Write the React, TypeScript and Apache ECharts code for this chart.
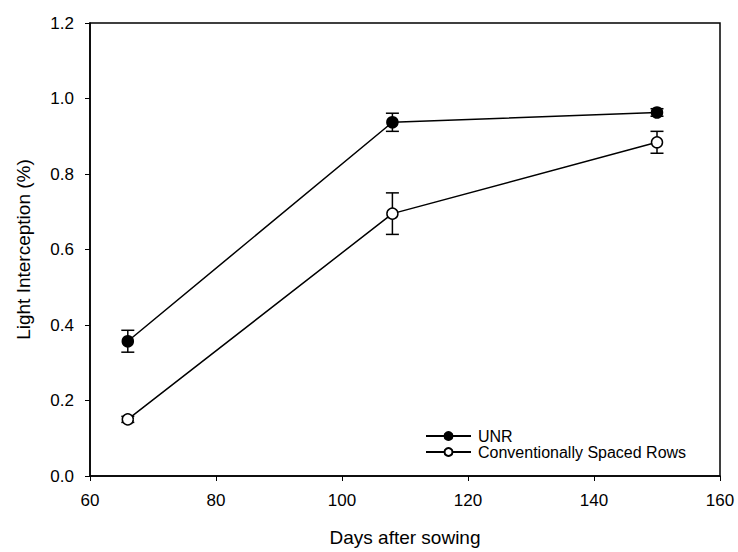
import React, { useEffect, useRef } from "react";
import * as echarts from "echarts";

const days = [66, 108, 150];
const unr = [0.357, 0.937, 0.963];
const unrErr = [0.029, 0.024, 0.01];
const csr = [0.15, 0.695, 0.884];
const csrErr = [0.008, 0.055, 0.029];
const seriesNames = ["UNR", "Conventionally Spaced Rows"];

const FONT = "Liberation Sans, Arial, sans-serif";

function errData(vals: number[], errs: number[]) {
  return days.map((d, i) => [d, vals[i] - errs[i], vals[i] + errs[i]]);
}

function renderErr(params: any, api: any) {
  const x = api.value(0);
  const lo = api.coord([x, api.value(1)]);
  const hi = api.coord([x, api.value(2)]);
  const cap = 6.5;
  const style = { stroke: "#000", lineWidth: 1.5 };
  return {
    type: "group",
    children: [
      { type: "line", shape: { x1: lo[0], y1: lo[1], x2: hi[0], y2: hi[1] }, style },
      { type: "line", shape: { x1: lo[0] - cap, y1: lo[1], x2: lo[0] + cap, y2: lo[1] }, style },
      { type: "line", shape: { x1: hi[0] - cap, y1: hi[1], x2: hi[0] + cap, y2: hi[1] }, style },
    ],
  };
}

export default function App() {
  const ref = useRef<HTMLDivElement>(null);
  useEffect(() => {
    const chart = echarts.init(ref.current!, null, { renderer: "svg" });
    chart.setOption({
      animation: false,
      backgroundColor: "#fff",
      textStyle: { fontFamily: FONT },
      grid: { left: 90, right: 18, top: 23, bottom: 72, show: true, borderColor: "#000", borderWidth: 1.5 },
      legend: {
        orient: "vertical",
        left: 420,
        top: 423,
        itemWidth: 45,
        itemHeight: 10,
        itemGap: 0,
        data: seriesNames,
        textStyle: { fontSize: 16, color: "#000", fontFamily: FONT, padding: [0, 0, 0, 2] },
      },
      xAxis: {
        type: "value",
        min: 60,
        max: 160,
        interval: 20,
        name: "Days after sowing",
        nameLocation: "middle",
        nameGap: 52,
        nameTextStyle: { fontSize: 19, color: "#000", fontFamily: FONT },
        axisLine: { lineStyle: { color: "#000", width: 1.5 } },
        axisTick: { inside: false, length: 5, lineStyle: { color: "#000" } },
        axisLabel: { fontSize: 17, color: "#000", margin: 16, fontFamily: FONT },
        splitLine: { show: false },
      },
      yAxis: {
        type: "value",
        min: 0,
        max: 1.2,
        interval: 0.2,
        name: "Light Interception (%)",
        nameLocation: "middle",
        nameGap: 57,
        nameTextStyle: { fontSize: 19, color: "#000", fontFamily: FONT },
        axisLine: { lineStyle: { color: "#000", width: 1.5 } },
        axisTick: { inside: false, length: 5, lineStyle: { color: "#000" } },
        axisLabel: { fontSize: 17, color: "#000", margin: 16, formatter: (v: number) => v.toFixed(1), fontFamily: FONT },
        splitLine: { show: false },
      },
      series: [
        {
          type: "custom",
          renderItem: renderErr,
          data: errData(unr, unrErr),
          z: 1,
          silent: true,
        },
        {
          type: "custom",
          renderItem: renderErr,
          data: errData(csr, csrErr),
          z: 1,
          silent: true,
        },
        {
          name: seriesNames[0],
          type: "line",
          data: days.map((d, i) => [d, unr[i]]),
          symbol: "circle",
          symbolSize: 11,
          lineStyle: { color: "#000", width: 1.5 },
          itemStyle: { color: "#000", borderColor: "#000", borderWidth: 1.5 },
          z: 3,
        },
        {
          name: seriesNames[1],
          type: "line",
          data: days.map((d, i) => [d, csr[i]]),
          symbol: "circle",
          symbolSize: 11,
          showAllSymbol: true,
          lineStyle: { color: "#000", width: 1.5 },
          itemStyle: { color: "#fff", borderColor: "#000", borderWidth: 1.5 },
          z: 3,
        },
      ],
    });
    return () => chart.dispose();
  }, []);
  return <div ref={ref} style={{ width: 738, height: 552, position: "absolute", left: 0, top: 0 }} />;
}
